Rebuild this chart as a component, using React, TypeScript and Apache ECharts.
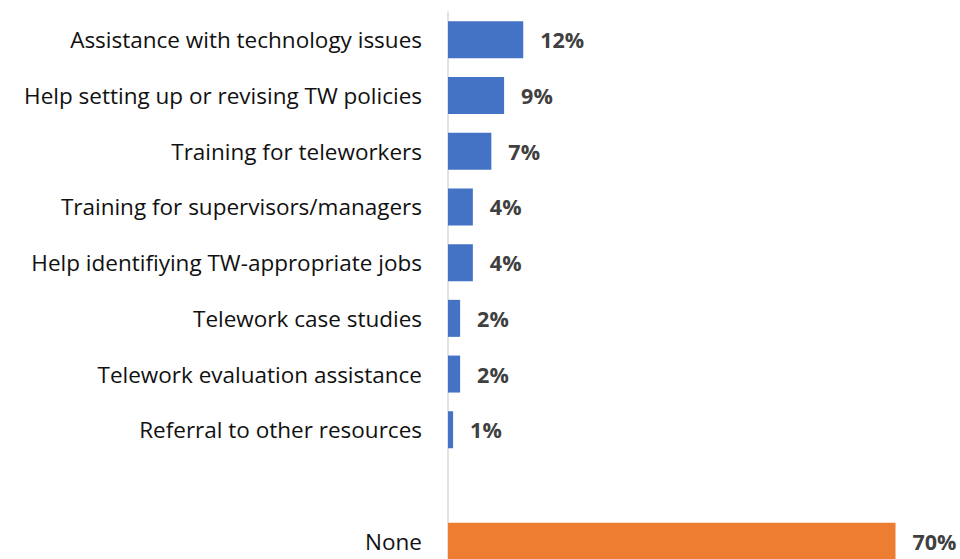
import React, { useEffect, useRef } from "react";
import * as echarts from "echarts";

const categories = [
  "Assistance with technology issues",
  "Help setting up or revising TW policies",
  "Training for teleworkers",
  "Training for supervisors/managers",
  "Help identifiying TW-appropriate jobs",
  "Telework case studies",
  "Telework evaluation assistance",
  "Referral to other resources",
  "",
  "None",
];

const values: (number | null)[] = [11.8, 8.8, 6.8, 3.9, 3.9, 1.9, 1.9, 0.8, null, 70.2];

const BLUE = "#4472C4";
const ORANGE = "#ED7D31";

export default function App() {
  const ref = useRef<HTMLDivElement>(null);
  useEffect(() => {
    if (!ref.current) return;
    const chart = echarts.init(ref.current, null, { renderer: "svg" });
    chart.setOption({
      animation: false,
      grid: { left: 448, top: 12, width: 510, height: 557, containLabel: false },
      xAxis: {
        type: "value",
        min: 0,
        max: 80,
        show: false,
      },
      yAxis: {
        type: "category",
        inverse: true,
        data: categories,
        axisLine: { show: true, lineStyle: { color: "#D9D9D9", width: 1.5 } },
        axisTick: { show: false },
        axisLabel: {
          margin: 26,
          color: "#111111",
          fontFamily: "Open Sans",
          fontSize: 22.5,
        },
      },
      series: [
        {
          type: "bar",
          barWidth: 37,
          data: values.map((v, i) => ({
            value: v,
            itemStyle: { color: categories[i] === "None" ? ORANGE : BLUE },
          })),
          label: {
            show: true,
            position: "right",
            distance: 17,
            color: "#404040",
            fontFamily: "Open Sans",
            fontWeight: "bold",
            fontSize: 21.5,
            formatter: (p: any) => (p.value == null ? "" : Math.round(p.value) + "%"),
          },
        },
      ],
    });
    return () => chart.dispose();
  }, []);
  return (
    <div
      style={{ position: "fixed", left: 0, top: 0, width: 960, height: 559, overflow: "hidden", background: "#fff" }}
    >
      <div ref={ref} style={{ width: 960, height: 590 }} />
    </div>
  );
}
